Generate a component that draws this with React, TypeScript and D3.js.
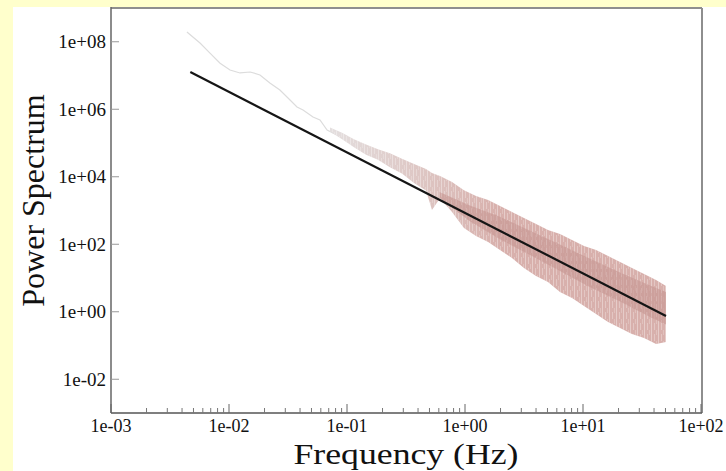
import React from "react";
import * as d3 from "d3";

// ---- data ----
// low-frequency part of the power spectrum (thin light trace)
const lowFreq = [0.0044, 0.00568, 0.0069, 0.0084, 0.0102, 0.0124, 0.0151, 0.0183, 0.0222, 0.027, 0.0329, 0.0377, 0.0424, 0.0515, 0.059, 0.0678, 0.082, 0.1, 0.122, 0.148, 0.19, 0.245, 0.322, 0.416, 0.536, 0.703, 0.96, 1.34];
const lowPower = [1.95e8, 9.2e7, 4.6e7, 2.3e7, 1.46e7, 1.19e7, 1.27e7, 1.04e7, 6.0e6, 3.7e6, 1.88e6, 1.17e6, 9.5e5, 5.9e5, 4.8e5, 2.43e5, 1.73e5, 1.23e5, 8.7e4, 6.2e4, 4.4e4, 3.1e4, 1.95e4, 1.29e4, 6.5e3, 4.0e3, 2.0e3, 1.03e3];

// envelope of the noisy spectrum (upper / lower extent)
const bandFreq = [0.0718, 0.0908, 0.1146, 0.145, 0.183, 0.231, 0.292, 0.37, 0.467, 0.525, 0.614, 0.776, 0.98, 1.24, 1.57, 1.98, 2.5, 3.16, 4.0, 5.05, 6.38, 8.07, 10.2, 12.9, 16.3, 20.6, 26.0, 32.9, 41.6, 50.5];
const bandHigh = [2.9e5, 2.0e5, 1.3e5, 9.0e4, 6.5e4, 5.0e4, 3.4e4, 2.4e4, 1.7e4, 1.3e4, 1.05e4, 7.0e3, 4.0e3, 2.7e3, 2.05e3, 1.36e3, 900, 600, 400, 264, 201, 134, 89, 68, 45, 30, 19.8, 13.1, 8.7, 5.8];
const bandLow = [2.2e5, 1.3e5, 7.5e4, 4.5e4, 3.2e4, 1.9e4, 1.25e4, 6.5e3, 3.9e3, 1.03e3, 2.3e3, 900, 303, 175, 117, 68, 39, 19.8, 11.5, 7.6, 3.85, 2.55, 1.48, 0.86, 0.5, 0.33, 0.22, 0.167, 0.111, 0.127];

// dense core of the spectrum
const coreFreq = [0.614, 1.1, 1.98, 3.56, 6.38, 11.5, 20.6, 37, 50.5];
const coreHigh = [3.5e3, 1.4e3, 650, 250, 98, 37, 14.5, 6.0, 3.85];
const coreLow = [2.3e3, 480, 140, 48, 16, 5.3, 2.0, 0.7, 0.42];

// power-law fit
const fitFreq = [0.0047, 50.5];
const fitPower = [1.27e7, 0.75];

// axis ticks
const xTicks = [1e-3, 1e-2, 1e-1, 1, 10, 100];
const xTickLabels = ["1e-03", "1e-02", "1e-01", "1e+00", "1e+01", "1e+02"];
const yTicks = [1e-2, 1, 1e2, 1e4, 1e6, 1e8];
const yTickLabels = ["1e-02", "1e+00", "1e+02", "1e+04", "1e+06", "1e+08"];

const W = 726;
const H = 471;
const left = 111;
const right = 701;
const top = 8;
const bottom = 413;
const serif = "'Liberation Serif', 'Times New Roman', serif";

export default function App() {
  const x = d3.scaleLog().domain([1e-3, 1e2]).range([left, right]);
  const y = d3.scaleLog().domain([1e-3, 1e9]).range([bottom, top]);

  const lowLine = d3
    .line<number>()
    .x((_, i) => x(lowFreq[i]))
    .y((d) => y(d))(lowPower) as string;

  const band = d3
    .area<number>()
    .x((_, i) => x(bandFreq[i]))
    .y0((_, i) => y(bandLow[i]))
    .y1((d) => y(d))(bandHigh) as string;

  const core = d3
    .area<number>()
    .x((_, i) => x(coreFreq[i]))
    .y0((_, i) => y(coreLow[i]))
    .y1((d) => y(d))(coreHigh) as string;

  const fit = d3
    .line<number>()
    .x((_, i) => x(fitFreq[i]))
    .y((d) => y(d))(fitPower) as string;

  const minor: number[] = [];
  for (let e = -3; e < 2; e++) {
    for (let m = 2; m <= 9; m++) minor.push(m * Math.pow(10, e));
  }

  return (
    <svg
      width={W}
      height={H}
      style={{ position: "absolute", left: 0, top: 0, display: "block" }}
    >
      <defs>
        <linearGradient id="bandGrad" gradientUnits="userSpaceOnUse" x1={330} y1={0} x2={500} y2={0}>
          <stop offset="0" stopColor="#e4dfdf" />
          <stop offset="0.6" stopColor="#ddc3c0" />
          <stop offset="1" stopColor="#d8b0ac" />
        </linearGradient>
        <pattern id="streaks" patternUnits="userSpaceOnUse" width={7} height={11}>
          <rect x={0} y={0} width={1} height={11} fill="#ffffff" />
          <rect x={3} y={4} width={0.8} height={7} fill="#ffffff" />
          <rect x={5.2} y={0} width={0.6} height={5} fill="#ffffff" />
        </pattern>
        <pattern id="coreStreaks" patternUnits="userSpaceOnUse" width={5} height={8}>
          <rect x={1} y={0} width={0.7} height={5} fill="#ffffff" />
        </pattern>
      </defs>

      <rect x={0} y={0} width={W} height={H} fill="#ffffcc" />
      <rect x={13} y={7} width={W - 13} height={H - 7} fill="#ffffff" />

      {/* spectrum */}
      <path d={lowLine} fill="none" stroke="#dcdcdc" strokeWidth={1.2} />
      <path d={band} fill="url(#bandGrad)" />
      <path d={band} fill="url(#streaks)" fillOpacity={0.35} />
      <path d={core} fill="#c99a95" fillOpacity={0.7} />
      <path d={core} fill="url(#coreStreaks)" fillOpacity={0.2} />
      <path d={fit} fill="none" stroke="#151515" strokeWidth={2.2} />

      {/* frame */}
      <line x1={left} x2={right + 1} y1={top} y2={top} stroke="#8e8e8e" strokeWidth={2} />
      <line x1={right + 1} x2={right + 1} y1={top} y2={bottom} stroke="#8e8e8e" strokeWidth={2} />
      <line x1={left} x2={left} y1={top - 1} y2={bottom} stroke="#666" strokeWidth={1.5} />
      <line x1={left} x2={right + 1} y1={bottom} y2={bottom} stroke="#555" strokeWidth={1.5} />

      {/* x ticks */}
      {minor.map((t, i) => (
        <line key={"mn" + i} x1={x(t)} x2={x(t)} y1={bottom} y2={bottom - 5} stroke="#777" strokeWidth={1} />
      ))}
      {xTicks.map((t, i) => (
        <g key={"xt" + i}>
          <line x1={x(t)} x2={x(t)} y1={bottom} y2={bottom - 9} stroke="#666" strokeWidth={1} />
          <text
            x={x(t)}
            y={432}
            textAnchor="middle"
            fontFamily={serif}
            fontSize={18}
            fill="#111"
          >
            {xTickLabels[i]}
          </text>
        </g>
      ))}

      {/* y ticks */}
      {yTicks.map((t, i) => (
        <g key={"yt" + i}>
          <line x1={left} x2={left + 8} y1={y(t)} y2={y(t)} stroke="#999" strokeWidth={1} />
          <text
            x={106}
            y={y(t)}
            dy="0.35em"
            textAnchor="end"
            fontFamily={serif}
            fontSize={19}
            fill="#111"
          >
            {yTickLabels[i]}
          </text>
        </g>
      ))}

      {/* axis titles */}
      <text
        x={(left + right) / 2}
        y={464}
        textAnchor="middle"
        fontFamily={serif}
        fontSize={29}
        textLength={225}
        lengthAdjust="spacingAndGlyphs"
        fill="#111"
      >
        Frequency (Hz)
      </text>
      <text
        transform={`translate(44, ${(top + bottom) / 2 - 10}) rotate(-90)`}
        textAnchor="middle"
        fontFamily={serif}
        fontSize={32}
        fill="#111"
      >
        Power Spectrum
      </text>
    </svg>
  );
}
